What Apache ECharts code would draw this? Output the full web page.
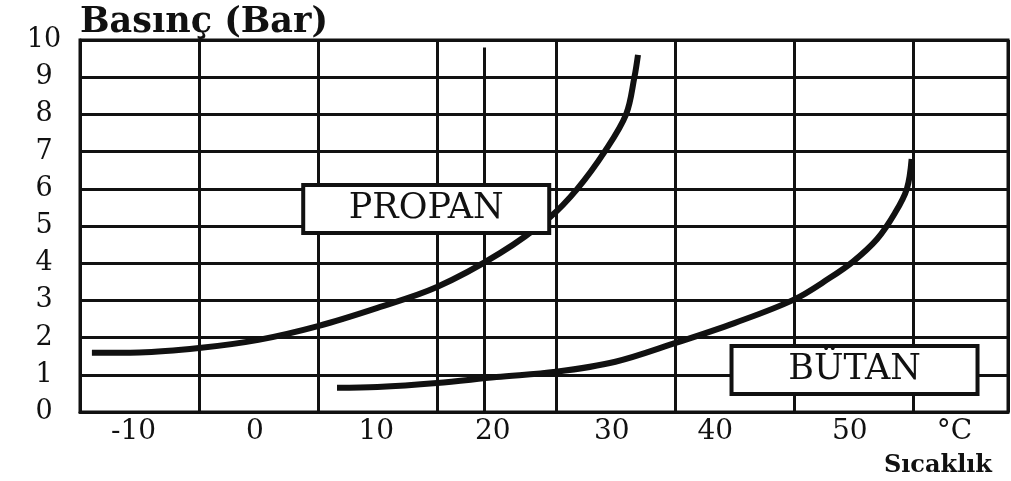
<!DOCTYPE html>
<html>
<head>
<meta charset="utf-8">
<title>Propan / Bütan basınç eğrisi</title>
<script src="https://cdn.jsdelivr.net/npm/echarts@6.0.0/dist/echarts.min.js"></script>
<style>
  html, body { margin: 0; padding: 0; background: #fff; }
  #chart { width: 1011px; height: 481px; }
</style>
</head>
<body>
<div id="chart"></div>
<script>
// values (temperature in degC, pressure in bar)
const propanTemps = [-14, -10, -5, 0, 5, 10, 15, 20.3, 24.5, 26.8, 29.1, 30.9, 31.6, 31.9];
const propanPressures = [1.59, 1.6, 1.72, 1.94, 2.31, 2.8, 3.36, 4.27, 5.24, 6.0, 7.0, 8.0, 9.0, 9.6];
const butanTemps = [6.6, 10, 15, 20, 25, 30, 35, 40, 45, 48, 50, 52, 53.5, 54.5, 54.9];
const butanPressures = [0.65, 0.67, 0.78, 0.94, 1.08, 1.35, 1.85, 2.39, 3.02, 3.6, 4.05, 4.65, 5.35, 6.0, 6.8];

// tick labels sit a bit off their values in the original print
const xTickPositions = [-10.5, -0.3, 9.9, 19.7, 29.7, 38.4, 49.7, 58.5];
const xTickLabels = ["-10", "0", "10", "20", "30", "40", "50", "\u00b0C"];

// stray extra grid line near 20 degC
const extraGridTemp = 19;

const boxNames = ["PROPAN", "B\u00dcTAN"];
const boxAnchors = [[14.1, 5.46], [50.1, 1.13]];

const INK = "#111";
const SERIF = "'DejaVu Serif', 'Liberation Serif', serif";

const chart = echarts.init(document.getElementById("chart"));

function toPairs(xs, ys) {
  return xs.map((x, i) => [x, ys[i]]);
}

const curveStyle = {
  type: "line",
  smooth: 0.35,
  symbol: "none",
  lineStyle: { color: INK, width: 6 },
  z: 3,
};

chart.setOption({
  animation: false,
  backgroundColor: "#fff",
  grid: {
    left: 80,
    right: 3,
    top: 40,
    bottom: 69,
    show: true,
    borderColor: INK,
    borderWidth: 3,
  },
  xAxis: {
    type: "value",
    min: -15,
    max: 63,
    interval: 10,
    name: "S\u0131cakl\u0131k",
    nameLocation: "end",
    nameGap: -16,
    nameTextStyle: {
      fontFamily: SERIF,
      fontWeight: "bold",
      fontSize: 24,
      color: INK,
      align: "right",
      verticalAlign: "top",
      padding: [42, 0, 0, 0],
    },
    axisLine: { show: true, onZero: false, lineStyle: { color: INK, width: 3 } },
    axisTick: { show: false },
    splitLine: { show: true, lineStyle: { color: INK, width: 3 } },
    axisLabel: {
      customValues: xTickPositions,
      formatter: (value) => xTickLabels[xTickPositions.indexOf(value)] || "",
      fontFamily: SERIF,
      fontSize: 28,
      color: INK,
      margin: 6,
    },
  },
  yAxis: {
    type: "value",
    min: 0,
    max: 10,
    interval: 1,
    name: "Bas\u0131n\u00e7 (Bar)",
    nameLocation: "end",
    nameGap: 0,
    nameTextStyle: {
      fontFamily: SERIF,
      fontWeight: "bold",
      fontSize: 35,
      color: INK,
      align: "left",
      verticalAlign: "bottom",
    },
    axisLine: { show: true, onZero: false, lineStyle: { color: INK, width: 3 } },
    axisTick: { show: false },
    splitLine: { show: true, lineStyle: { color: INK, width: 3 } },
    axisLabel: {
      fontFamily: SERIF,
      fontSize: 27,
      color: INK,
      align: "center",
      margin: 36,
    },
  },
  series: [
    {
      ...curveStyle,
      name: "PROPAN",
      data: toPairs(propanTemps, propanPressures),
      markLine: {
        silent: true,
        symbol: ["none", "none"],
        label: { show: false },
        lineStyle: { color: INK, width: 3, type: "solid" },
        data: [[{ coord: [extraGridTemp, 0] }, { coord: [extraGridTemp, 9.8] }]],
      },
    },
    {
      ...curveStyle,
      name: "B\u00dcTAN",
      data: toPairs(butanTemps, butanPressures),
    },
    {
      type: "scatter",
      symbolSize: 0,
      itemStyle: { color: INK, opacity: 1 },
      z: 5,
      data: boxNames.map((name, i) => ({ name, value: boxAnchors[i] })),
      label: {
        show: true,
        position: "inside",
        formatter: "{b}",
        fontFamily: SERIF,
        fontSize: 35,
        color: INK,
        opacity: 1,
        textBorderWidth: 0,
        width: 242,
        height: 44,
        lineHeight: 44,
        align: "center",
        verticalAlign: "middle",
        backgroundColor: "#fff",
        borderColor: INK,
        borderWidth: 4,
      },
    },
  ],
});

window.addEventListener("resize", () => chart.resize());
</script>
</body>
</html>
